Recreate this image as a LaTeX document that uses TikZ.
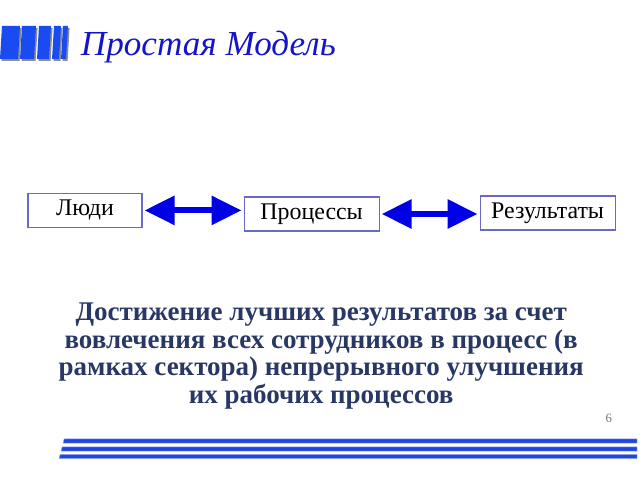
\documentclass[tikz,border=0pt]{standalone}
\usepackage{fontspec}
\setmainfont{Liberation Serif}
\usetikzlibrary{arrows.meta}

\definecolor{logoblue}{RGB}{25,75,240}
\definecolor{titleblue}{RGB}{20,20,200}
\definecolor{boxline}{RGB}{105,105,200}
\definecolor{arrowblue}{RGB}{0,0,230}
\definecolor{textnavy}{RGB}{40,55,100}
\definecolor{stripeblue}{RGB}{30,70,225}

\begin{document}
\begin{tikzpicture}[
            stage/.style = {draw = boxline, line width = 0.8pt, minimum height = 0.85cm,
                inner sep = 0pt, font = \fontsize{17}{17}\selectfont}, % boxes of the model
            link/.style = {{Triangle[width = 0.7cm, length = 0.75cm]}-{Triangle[width = 0.7cm, length = 0.75cm]},
                draw = arrowblue, line width = 0.15cm, shorten > = 0.05cm, shorten < = 0.05cm} % two-way arrows
        ]
    \useasboundingbox (0, 0) rectangle (16, 12);

    % Logo bars with their shadow
    \foreach \a/\b in {0/0.45, 0.5/0.85, 0.925/1.225, 1.3/1.475, 1.525/1.65} {
        \fill[black!45] (\a+0.04, 10.475) -- (\b+0.04, 10.475) -- (\b+0.09, 11.3) -- (\a+0.09, 11.3) -- cycle;
        \fill[logoblue] (\a, 10.525) -- (\b, 10.525) -- (\b+0.05, 11.35) -- (\a+0.05, 11.35) -- cycle;
    }
    \node[anchor = base west, text = titleblue, font = \itshape\fontsize{25}{25}\selectfont]
        (title) at (1.9, 10.6) {Простая Модель};

    % Define the nodes and their positions
    \node[stage, minimum width = 2.85cm] (lyudi) at (2.125, 6.74) {Люди};
    \node[stage, minimum width = 3.375cm] (protsessy) at (7.79, 6.65) {Процессы};
    \node[stage, minimum width = 3.375cm] (rezultaty) at (13.69, 6.675) {Результаты};

    % Draw arrows between nodes
    \draw[link] (lyudi.east) -- (lyudi.east -| protsessy.west);
    \draw[link] (protsessy.east) -- (protsessy.east -| rezultaty.west);

    % Text under the model
    \node[align = center, text = textnavy, font = \bfseries\fontsize{19.2}{19.7}\selectfont]
        (goal) at (8.03, 3.1) {Достижение лучших результатов за счет\\
        вовлечения всех сотрудников в процесс (в\\
        рамках сектора) непрерывного улучшения\\
        их рабочих процессов};
    \node[text = black!55, font = \fontsize{9}{9}\selectfont] (page) at (15.22, 1.55) {6};

    % Stripes at the bottom
    \foreach \y/\x in {0.975/1.575, 0.775/1.525, 0.5875/1.475} {
        \filldraw[fill = stripeblue, draw = stripeblue!45, line width = 0.3pt]
            (\x, \y-0.055) -- (15.925, \y-0.055) -- (15.925, \y+0.055) -- (\x+0.03, \y+0.055) -- cycle;
    }
\end{tikzpicture}
\end{document}
